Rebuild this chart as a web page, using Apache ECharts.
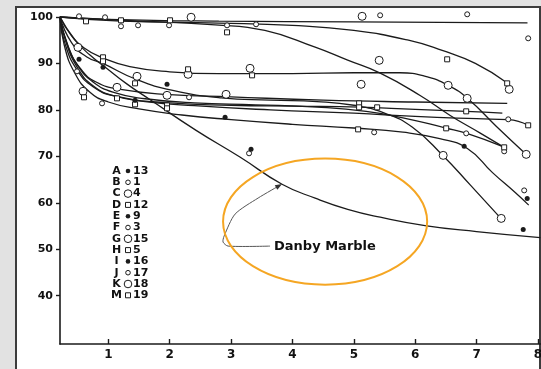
<!DOCTYPE html>
<html><head><meta charset="utf-8">
<script src="https://cdn.jsdelivr.net/npm/echarts@6/dist/echarts.min.js"></script>
<style>
html,body{margin:0;padding:0;width:541px;height:369px;overflow:hidden;background:#e2e2e2;}
#panel{position:absolute;left:15px;top:6px;width:526px;height:400px;background:#fff;border:2px solid #3c3c3c;box-sizing:border-box;}
#chart{position:absolute;left:0;top:0;width:541px;height:369px;}
</style></head><body>
<div id="panel"></div><div id="chart"></div>
<script>
// ---- axes ----
const xTicks = [1, 2, 3, 4, 5, 6, 7, 8];
const yTicks = [40, 50, 60, 70, 80, 90, 100];

// ---- curves (x, percent) ----
const curveTop = [[0.212,100],[1.0,99.5],[2.8,99.1],[5.0,98.95],[7.83,98.75]];
const curveUpper = [[0.212,100],[1.2,99.1],[2.8,98.7],[4.0,98.2],[5.0,97.1],[5.89,95.0],[6.44,92.8],[6.98,90.0],[7.5,85.8]];
const curveUpper2 = [[0.212,100],[1.2,99.3],[2.74,98.3],[3.55,97.1],[4.37,93.5],[4.9,90.7],[5.43,87.9],[6.08,83.1],[6.57,78.8],[7.06,75.0],[7.43,72.1]];
const curvePlateau = [[0.212,100],[0.38,96.3],[0.6,93.4],[0.91,91.2],[1.35,89.3],[2.0,88.2],[2.8,87.8],[4.0,87.8],[5.0,88.0],[5.75,88.0],[6.2,87.1],[6.55,85.2],[6.85,82.5],[7.32,76.5],[7.81,70.4]];
const curveB1 = [[0.212,100],[0.35,93.5],[0.55,88.8],[0.8,86.0],[1.2,84.4],[2.0,83.3],[3.0,82.8],[4.5,82.1],[6.0,81.7],[7.5,81.4]];
const curveB2 = [[0.212,100],[0.3,94],[0.5,88.4],[0.75,85.0],[1.1,83.0],[2.0,81.5],[3.0,81.0],[4.0,80.8],[5.1,80.6],[6.0,80.1],[6.83,79.7],[7.42,79.3]];
const curveB3 = [[0.212,100],[0.4,94.5],[0.65,91.4],[0.91,90.0],[1.45,86.6],[2.05,84.2],[2.84,82.6],[3.64,82.1],[4.4,81.8],[5.0,81.0],[5.5,79.3],[5.95,76.3],[6.45,70.2],[6.9,63.8],[7.4,56.6]];
const curveB4 = [[0.212,100],[0.3,95],[0.5,89],[0.75,85.2],[1.1,83.0],[1.6,81.8],[2.4,80.9],[3.64,80.0],[5.0,79.3],[6.0,78.6],[7.0,78.1],[7.52,77.9],[7.84,76.7]];
const curveB5 = [[0.212,100],[0.28,94],[0.45,88],[0.7,83.8],[1.0,81.7],[1.5,80.2],[2.2,78.9],[3.0,77.9],[4.0,76.9],[5.0,76.1],[5.8,75.2],[6.4,73.8],[6.85,71.7],[7.26,66.5],[7.63,62.2],[7.85,59.5]];
const curveB6 = [[0.212,100],[0.32,94.5],[0.5,89.6],[0.75,86.0],[1.1,83.7],[1.6,82.4],[2.4,81.5],[3.4,81.1],[4.4,80.6],[5.2,79.7],[5.8,78.3],[6.5,76.1],[6.83,75.0],[7.45,72.0]];
const curveDanby = [[0.212,100],[0.45,95.2],[0.7,91.8],[0.95,89.2],[1.3,85.6],[1.67,82.3],[2.43,75.6],[3.15,69.8],[3.83,64.0],[4.37,61.0],[4.9,58.6],[5.43,56.9],[6.16,55.1],[7.0,53.8],[8.04,52.5]];

// ---- observed points ----
const smallCircles = [[0.522,100.15],[0.946,99.94],[1.206,98.0],[1.484,98.21],[1.989,98.21],[0.489,88.3],[0.897,81.41],[2.315,82.71],[2.934,98.21],[3.407,98.43],[5.429,100.37],[6.847,100.58],[7.841,95.41],[7.516,77.97],[6.831,74.95],[5.331,75.17],[7.45,71.08],[7.776,62.67],[3.293,70.65]];
const largeCircles = [[0.505,93.47],[0.587,84.0],[1.141,84.86],[1.467,87.23],[1.956,83.14],[2.299,87.66],[2.348,99.94],[2.918,83.35],[3.309,88.95],[5.135,100.15],[5.413,90.67],[5.119,85.51],[6.537,85.29],[6.847,82.49],[7.532,84.43],[6.456,70.21],[7.809,70.43],[7.402,56.64]];
const squares = [[0.636,99.07],[1.206,99.29],[0.913,91.32],[0.913,90.46],[0.603,82.71],[1.141,82.49],[1.435,85.72],[1.435,81.2],[1.956,80.98],[1.956,80.34],[2.005,99.29],[2.299,88.74],[2.934,96.7],[3.342,87.44],[5.086,81.41],[5.086,80.55],[5.38,80.55],[6.521,90.89],[7.499,85.72],[6.831,79.69],[7.841,76.68],[6.505,76.03],[5.07,75.81],[7.45,71.94]];
const blackDots = [[0.522,90.89],[0.913,89.17],[1.435,82.06],[1.956,85.51],[2.902,78.4],[3.325,71.51],[6.798,72.15],[7.825,60.95],[7.76,54.27]];

// ---- key ----
const legendLetters = ['A','B','C','D','E','F','G','H','I','J','K','M'];
const legendSymbols = ['dot','small','large','square','dot','small','large','square','dot','small','large','square'];
const legendNumbers = ['13','1','4','12','9','3','15','5','16','17','18','19'];

// ---- annotation (data coords) ----
const annotationLabel = 'Danby Marble';
const labelAnchor = [3.70, 50.5];
const leaderPath = [[3.635,50.68],[2.951,50.68],[2.869,51.54],[2.886,52.83],[3.065,57.57],[3.44,61.02],[3.80,63.8]];
const arrowTip = [3.831,64.03];
const ellipseCenter = [4.532, 55.95];
const ellipseRadii = [1.663, 13.57];

const INK = '#1b1b1b';
const FONT = '"DejaVu Sans", "Liberation Sans", sans-serif';
const curves = [curveTop, curveUpper, curveUpper2, curvePlateau, curveB1, curveB2, curveB3, curveB4, curveB5, curveB6, curveDanby];

const chart = echarts.init(document.getElementById('chart'), null, {renderer:'canvas'});
const lineSeries = curves.map(c => ({
  type:'line', data:c, symbol:'none', smooth:0.5, clip:false, silent:true,
  lineStyle:{color:INK, width:1.3}, z:2
}));
function scat(data, symbol, size, fill) {
  return {type:'scatter', data, symbol, symbolSize:size, clip:false, silent:true, z:3,
    itemStyle:{color:fill, borderColor:INK, borderWidth:fill === INK ? 0 : 1, opacity:1}};
}
chart.setOption({
  animation:false,
  backgroundColor:'transparent',
  grid:{left:60, right:0, top:17, bottom:25, outerBoundsMode:'none', containLabel:false},
  xAxis:{type:'value', min:0.212, max:8.05,
    axisLine:{onZero:false, lineStyle:{color:INK, width:1.6}},
    axisTick:{inside:true, length:5, customValues:xTicks, lineStyle:{color:INK, width:1.4}},
    axisLabel:{customValues:xTicks, color:'#111', fontFamily:FONT, fontWeight:'bold', fontSize:12, margin:5, hideOverlap:false},
    splitLine:{show:false}},
  yAxis:{type:'value', min:29.6, max:100,
    axisLine:{onZero:false, lineStyle:{color:INK, width:1.6}},
    axisTick:{length:4, customValues:yTicks, lineStyle:{color:INK, width:1.4}},
    axisLabel:{customValues:yTicks, color:'#111', fontFamily:FONT, fontWeight:'bold', fontSize:11, margin:7},
    splitLine:{show:false}},
  series:[...lineSeries,
    scat(smallCircles,'circle',5,'#fff'),
    scat(largeCircles,'circle',8,'#fff'),
    scat(squares,'rect',5,'#fff'),
    scat(blackDots,'circle',5,INK)]
});

const px = p => chart.convertToPixel({gridIndex:0}, p);
const g = [];
const ec = px(ellipseCenter);
const erx = px([ellipseCenter[0] + ellipseRadii[0], ellipseCenter[1]])[0] - ec[0];
const ery = ec[1] - px([ellipseCenter[0], ellipseCenter[1] + ellipseRadii[1]])[1];
g.push({type:'polyline', z:50, shape:{points:leaderPath.map(px), smooth:0.25},
  style:{stroke:'#555', lineWidth:1, fill:null}});
const tip = px(arrowTip), back = px(leaderPath[leaderPath.length-2]);
let dx = tip[0]-back[0], dy = tip[1]-back[1]; const L = Math.hypot(dx,dy); dx/=L; dy/=L;
const bx = tip[0]-dx*7, by = tip[1]-dy*7;
g.push({type:'polygon', z:50, shape:{points:[tip,[bx-dy*2.6,by+dx*2.6],[bx+dy*2.6,by-dx*2.6]]},
  style:{fill:'#333'}});
const la = px(labelAnchor);
g.push({type:'text', z:50, x:la[0], y:la[1], style:{text:annotationLabel, font:'bold 13px ' + FONT, fill:'#111', align:'left', verticalAlign:'middle'}});
g.push({type:'ellipse', z:60, shape:{cx:ec[0], cy:ec[1], rx:erx, ry:ery},
  style:{fill:null, stroke:'#f5a623', lineWidth:2}});
legendLetters.forEach((l, i) => {
  const y = 171 + i * 11.3;
  g.push({type:'text', z:50, x:116.5, y, style:{text:l, font:'bold 11px ' + FONT, fill:'#111', align:'center', verticalAlign:'middle'}});
  const s = legendSymbols[i];
  if (s === 'dot') g.push({type:'circle', z:50, shape:{cx:128, cy:y, r:2.3}, style:{fill:INK}});
  else if (s === 'small') g.push({type:'circle', z:50, shape:{cx:128, cy:y, r:2.3}, style:{fill:'#fff', stroke:INK, lineWidth:1}});
  else if (s === 'large') g.push({type:'circle', z:50, shape:{cx:128, cy:y, r:3.8}, style:{fill:'#fff', stroke:INK, lineWidth:1}});
  else g.push({type:'rect', z:50, shape:{x:125.5, y:y-2.5, width:5, height:5}, style:{fill:'#fff', stroke:INK, lineWidth:1}});
  g.push({type:'text', z:50, x:133, y, style:{text:legendNumbers[i], font:'bold 11px ' + FONT, fill:'#111', align:'left', verticalAlign:'middle'}});
});
chart.setOption({graphic:g});
</script></body></html>
